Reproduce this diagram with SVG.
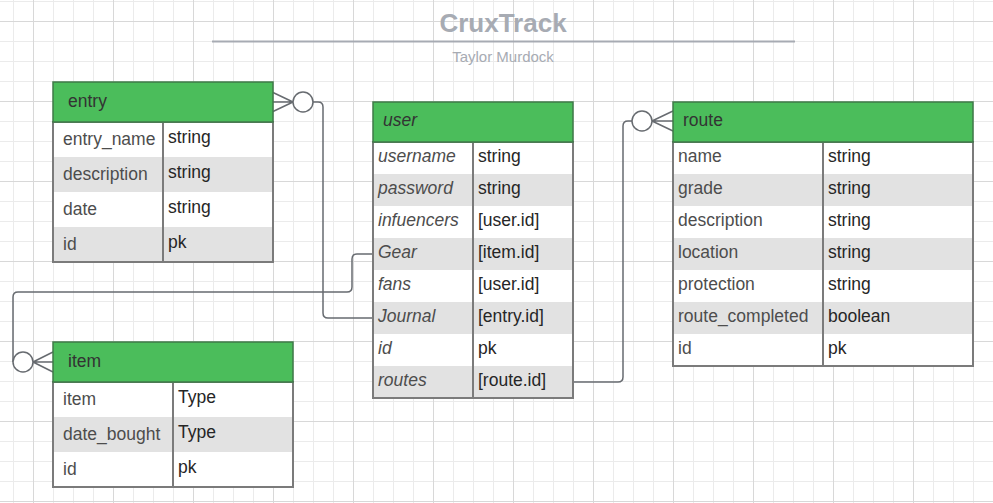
<svg xmlns="http://www.w3.org/2000/svg" width="993" height="503" viewBox="0 0 993 503">
<defs>
<pattern id="gMinor" patternUnits="userSpaceOnUse" x="13" y="1" width="20" height="20"><path d="M0.5 0V20M0 0.5H20" stroke="#ebebeb" stroke-width="1" fill="none"/></pattern>
<pattern id="gMajor" patternUnits="userSpaceOnUse" x="33" y="21" width="80" height="80"><path d="M0.5 0V80M0 0.5H80" stroke="#d8d8d8" stroke-width="1" fill="none"/></pattern>
</defs>
<style>
text{font-family:"Liberation Sans",Arial,sans-serif;font-size:17.5px}
.hdr{fill:#4bbd5b;stroke:#3f7a48;stroke-width:1.5}
.row{fill:#ffffff}
.alt{fill:#e2e2e2}
.frame{fill:none;stroke:#7b7b7b;stroke-width:2}
.div{stroke:#7b7b7b;stroke-width:2}
.ht{fill:#333333}
.nm{fill:#4d4d4d}
.val{fill:#262626}
.it{font-style:italic}
.conn{fill:none;stroke:#676b70;stroke-width:1.5}
.ring{fill:#ffffff;stroke:#676b70;stroke-width:1.5}
.title{fill:#a7abb3}
</style>
<rect width="993" height="503" fill="#ffffff"/>
<rect width="993" height="503" fill="url(#gMinor)"/>
<rect width="993" height="503" fill="url(#gMajor)"/>

<g id="title">
<text class="title" x="503" y="32" text-anchor="middle" style="font-size:26px;font-weight:bold">CruxTrack</text>
<line x1="212" y1="41.5" x2="795" y2="41.5" stroke="#a7abb3" stroke-width="2"/>
<text class="title" x="503" y="62" text-anchor="middle" style="font-size:15px">Taylor Murdock</text>
</g>

<g id="connectors">
<path class="conn" d="M313 102H318Q323 102 323 107V313Q323 318 328 318H373"/>
<path class="conn" d="M273 92.5L293 102M273 102H293M273 111.5L293 102"/>
<circle class="ring" cx="303" cy="102" r="10"/>
<path class="conn" d="M373 254H357Q352 254 352 259V287Q352 292 347 292H18Q13 292 13 297V362"/>
<path class="conn" d="M53 352L33 362M53 362H33M53 372L33 362"/>
<circle class="ring" cx="23" cy="362" r="10"/>
<path class="conn" d="M573 382H618Q623 382 623 377V126Q623 121 628 121H632"/>
<path class="conn" d="M673 111L652 121M673 121H652M673 131L652 121"/>
<circle class="ring" cx="642" cy="121" r="10"/>
</g>

<g id="entry">
<rect class="row" x="53" y="122" width="220" height="35"/>
<rect class="alt" x="53" y="157" width="220" height="35"/>
<rect class="row" x="53" y="192" width="220" height="35"/>
<rect class="alt" x="53" y="227" width="220" height="35"/>
<rect class="frame" x="53" y="122" width="220" height="140"/>
<line class="div" x1="163" y1="122" x2="163" y2="262"/>
<rect class="hdr" x="53" y="82" width="220" height="40"/>
<text class="ht" x="68" y="107">entry</text>
<text class="nm" x="63" y="145">entry_name</text><text class="val" x="168" y="143">string</text>
<text class="nm" x="63" y="180">description</text><text class="val" x="168" y="178">string</text>
<text class="nm" x="63" y="215">date</text><text class="val" x="168" y="213">string</text>
<text class="nm" x="63" y="250">id</text><text class="val" x="168" y="248">pk</text>
</g>

<g id="item">
<rect class="row" x="53" y="382" width="240" height="35"/>
<rect class="alt" x="53" y="417" width="240" height="35"/>
<rect class="row" x="53" y="452" width="240" height="35"/>
<rect class="frame" x="53" y="382" width="240" height="105"/>
<line class="div" x1="173" y1="382" x2="173" y2="487"/>
<rect class="hdr" x="53" y="342" width="240" height="40"/>
<text class="ht" x="68" y="367">item</text>
<text class="nm" x="63" y="405">item</text><text class="val" x="178" y="403">Type</text>
<text class="nm" x="63" y="440">date_bought</text><text class="val" x="178" y="438">Type</text>
<text class="nm" x="63" y="475">id</text><text class="val" x="178" y="473">pk</text>
</g>

<g id="user">
<rect class="row" x="373" y="142" width="200" height="32"/>
<rect class="alt" x="373" y="174" width="200" height="32"/>
<rect class="row" x="373" y="206" width="200" height="32"/>
<rect class="alt" x="373" y="238" width="200" height="32"/>
<rect class="row" x="373" y="270" width="200" height="32"/>
<rect class="alt" x="373" y="302" width="200" height="32"/>
<rect class="row" x="373" y="334" width="200" height="32"/>
<rect class="alt" x="373" y="366" width="200" height="32"/>
<rect class="frame" x="373" y="142" width="200" height="256"/>
<line class="div" x1="473" y1="142" x2="473" y2="398"/>
<rect class="hdr" x="373" y="102" width="200" height="40"/>
<text class="ht it" x="383" y="126">user</text>
<text class="nm it" x="378" y="162">username</text><text class="val" x="478" y="162">string</text>
<text class="nm it" x="378" y="194">password</text><text class="val" x="478" y="194">string</text>
<text class="nm it" x="378" y="226">infuencers</text><text class="val" x="478" y="226">[user.id]</text>
<text class="nm it" x="378" y="258">Gear</text><text class="val" x="478" y="258">[item.id]</text>
<text class="nm it" x="378" y="290">fans</text><text class="val" x="478" y="290">[user.id]</text>
<text class="nm it" x="378" y="322">Journal</text><text class="val" x="478" y="322">[entry.id]</text>
<text class="nm it" x="378" y="354">id</text><text class="val" x="478" y="354">pk</text>
<text class="nm it" x="378" y="386">routes</text><text class="val" x="478" y="386">[route.id]</text>
</g>

<g id="route">
<rect class="row" x="673" y="142" width="300" height="32"/>
<rect class="alt" x="673" y="174" width="300" height="32"/>
<rect class="row" x="673" y="206" width="300" height="32"/>
<rect class="alt" x="673" y="238" width="300" height="32"/>
<rect class="row" x="673" y="270" width="300" height="32"/>
<rect class="alt" x="673" y="302" width="300" height="32"/>
<rect class="row" x="673" y="334" width="300" height="32"/>
<rect class="frame" x="673" y="142" width="300" height="224"/>
<line class="div" x1="823" y1="142" x2="823" y2="366"/>
<rect class="hdr" x="673" y="102" width="300" height="40"/>
<text class="ht" x="683" y="126">route</text>
<text class="nm" x="678" y="162">name</text><text class="val" x="828" y="162">string</text>
<text class="nm" x="678" y="194">grade</text><text class="val" x="828" y="194">string</text>
<text class="nm" x="678" y="226">description</text><text class="val" x="828" y="226">string</text>
<text class="nm" x="678" y="258">location</text><text class="val" x="828" y="258">string</text>
<text class="nm" x="678" y="290">protection</text><text class="val" x="828" y="290">string</text>
<text class="nm" x="678" y="322">route_completed</text><text class="val" x="828" y="322">boolean</text>
<text class="nm" x="678" y="354">id</text><text class="val" x="828" y="354">pk</text>
</g>
</svg>
